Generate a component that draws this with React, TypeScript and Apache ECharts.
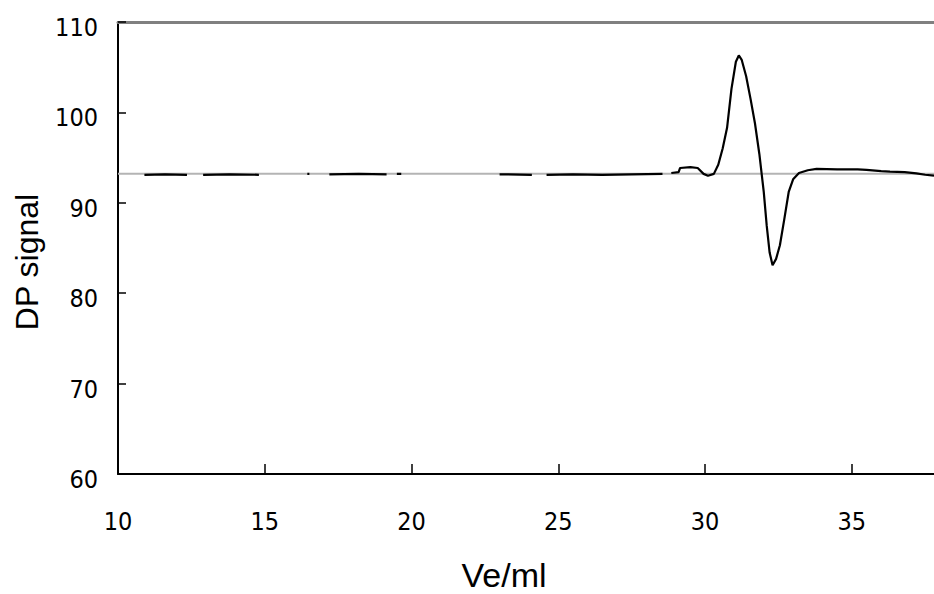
import React, { useEffect, useRef } from "react";
import * as echarts from "echarts";

// Elution volume (ml) and DP signal; null = gap
const volume = [
  10.9, 11.6, 12.35, 12.36,
  12.9, 13.8, 14.8, 14.81,
  16.45, 16.52, 16.53,
  17.2, 18.2, 19.15, 19.16,
  19.5, 19.65, 19.66,
  23.0, 24.1, 24.11,
  24.6, 25.5, 26.5, 27.5, 28.55, 28.56,
  28.85, 29.1, 29.15, 29.5, 29.75, 29.95, 30.1, 30.3, 30.45, 30.6, 30.75, 30.9,
  31.05, 31.15, 31.25, 31.4, 31.55, 31.7, 31.85, 32.0, 32.1, 32.2, 32.3, 32.42,
  32.55, 32.7, 32.85, 33.0, 33.2, 33.5, 33.8, 34.5, 35.2, 35.5, 36.0, 36.3,
  36.8, 37.2, 37.5, 37.8,
];
const signal: (number | null)[] = [
  93.1, 93.15, 93.1, null,
  93.1, 93.15, 93.1, null,
  93.2, 93.2, null,
  93.15, 93.2, 93.15, null,
  93.2, 93.2, null,
  93.15, 93.1, null,
  93.1, 93.15, 93.1, 93.15, 93.2, null,
  93.3, 93.4, 93.85, 93.95, 93.85, 93.2, 93.0, 93.2, 94.2, 96.0, 98.3, 102.6,
  105.6, 106.3, 105.8, 104.0, 101.5, 98.8, 95.4, 91.2, 87.5, 84.5, 83.1, 83.8,
  85.3, 88.2, 91.2, 92.6, 93.3, 93.6, 93.75, 93.7, 93.7, 93.65, 93.5, 93.45,
  93.4, 93.25, 93.1, 93.0,
];
const baselineX = [10, 37.8];
const baselineY = [93.2, 93.2];
const xTicks = [10, 15, 20, 25, 30, 35];
const xTitle = "Ve/ml";
const yTitle = "DP signal";

const tickFont = '"DejaVu Sans Condensed", "DejaVu Sans", sans-serif';
const titleFont = '"Liberation Sans", Arial, sans-serif';

export default function App() {
  const ref = useRef<HTMLDivElement>(null);
  useEffect(() => {
    if (!ref.current) return;
    const chart = echarts.init(ref.current, null, { renderer: "svg" });
    chart.setOption({
      animation: false,
      backgroundColor: "#ffffff",
      grid: { left: 118, top: 22, right: 0, bottom: 120 },
      xAxis: [
        {
          type: "value",
          min: 10,
          max: 37.8,
          interval: 5,
          axisLine: { show: true, lineStyle: { color: "#000", width: 2 } },
          axisTick: { show: true, inside: true, length: 10, lineStyle: { color: "#000", width: 1.5 } },
          splitLine: { show: false },
          axisLabel: {
            color: "#000",
            fontFamily: tickFont,
            fontSize: 25,
            margin: 35,
            showMaxLabel: false,
            formatter: (v: number) => (xTicks.includes(v) ? String(v) : ""),
          },
        },
        {
          type: "value",
          position: "top",
          min: 10,
          max: 37.8,
          axisLine: { show: true, onZero: false, lineStyle: { color: "#808080", width: 3 } },
          axisTick: { show: false },
          axisLabel: { show: false },
          splitLine: { show: false },
        },
      ],
      yAxis: {
        type: "value",
        min: 60,
        max: 110,
        interval: 10,
        axisLine: { show: true, lineStyle: { color: "#000", width: 2 } },
        axisTick: { show: true, inside: true, length: 8, lineStyle: { color: "#000", width: 1.5 } },
        splitLine: { show: false },
        axisLabel: {
          color: "#000",
          fontFamily: tickFont,
          fontSize: 25,
          margin: 20,
          formatter: (v: number) => `{t|${v}}`,
          rich: {
            t: {
              fontFamily: tickFont,
              fontSize: 25,
              color: "#000",
              padding: [11, 0, 0, 0],
            },
          },
        },
      },
      series: [
        {
          type: "line",
          name: "baseline",
          data: baselineX.map((x, i) => [x, baselineY[i]]),
          showSymbol: false,
          lineStyle: { color: "#b4b4b4", width: 2 },
          silent: true,
        },
        {
          type: "line",
          name: "DP signal",
          data: volume.map((x, i) => [x, signal[i] === null ? "-" : signal[i]]),
          showSymbol: false,
          connectNulls: false,
          lineStyle: { color: "#000", width: 2.2 },
        },
      ],
      graphic: [
        {
          type: "text",
          x: 504,
          y: 575,
          style: {
            text: xTitle,
            fill: "#000",
            font: `34px ${titleFont}`,
            textAlign: "center",
            textVerticalAlign: "middle",
          },
        },
        {
          type: "text",
          x: 27,
          y: 262,
          rotation: Math.PI / 2,
          style: {
            text: yTitle,
            fill: "#000",
            font: `32px ${titleFont}`,
            textAlign: "center",
            textVerticalAlign: "middle",
          },
        },
      ],
    });
    return () => chart.dispose();
  }, []);
  return <div ref={ref} style={{ width: 934, height: 594, position: "absolute", left: 0, top: 0 }} />;
}
